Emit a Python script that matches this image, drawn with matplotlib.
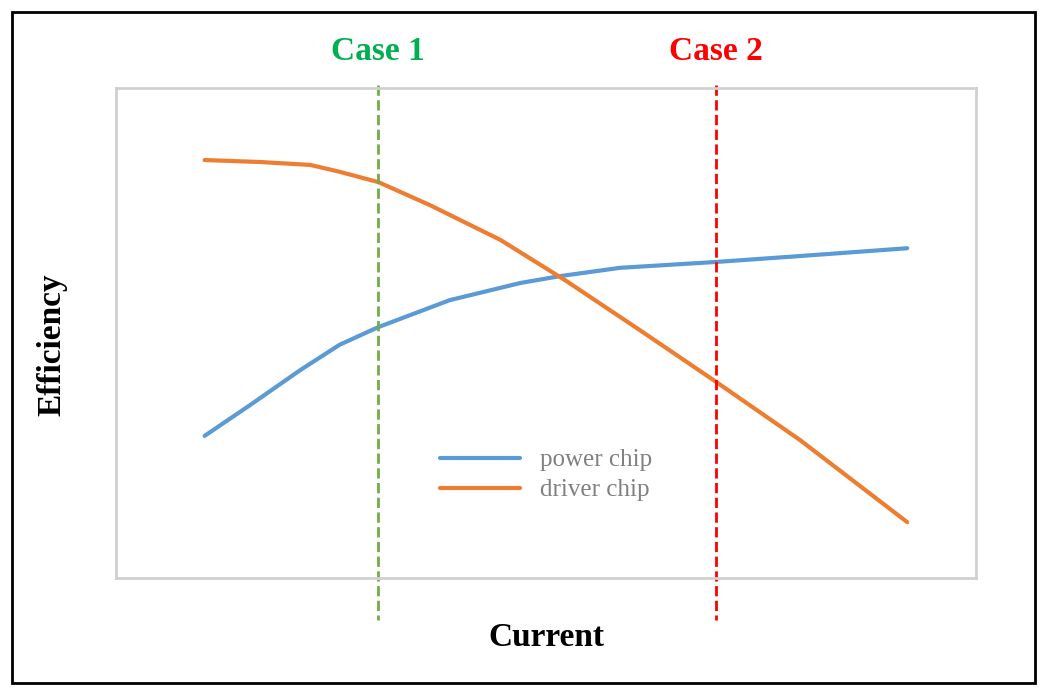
import matplotlib
matplotlib.use("Agg")
import matplotlib.pyplot as plt
from matplotlib.patches import Rectangle

power_x = [1.03, 1.56, 2.14, 2.60, 3.05, 3.88, 4.70, 5.16, 5.86, 6.98, 7.95, 9.20]
power_y = [2.90, 3.53, 4.24, 4.76, 5.12, 5.67, 6.02, 6.16, 6.33, 6.45, 6.57, 6.73]
driver_x = [1.03, 1.67, 2.26, 2.60, 3.05, 3.65, 4.47, 5.22, 6.09, 6.98, 7.95, 9.20]
driver_y = [8.53, 8.49, 8.43, 8.29, 8.08, 7.61, 6.90, 6.08, 5.06, 4.00, 2.82, 1.14]
case_x = [3.05, 6.98]
case_labels = ["Case 1", "Case 2"]
case_colors = ["#70ad47", "#ff0000"]
case_text_colors = ["#00b050", "#ff0000"]

plt.rcParams['font.family'] = ['Liberation Serif', 'DejaVu Serif']
fig = plt.figure(figsize=(10.5, 6.95), dpi=100)
fig.patches.append(Rectangle((12/1050, 12/695), 1023/1050, 671/695, transform=fig.transFigure,
                             fill=False, edgecolor='black', linewidth=2))
ax = fig.add_axes([116/1050, 117/695, 860/1050, 490/695])
ax.set_xlim(0, 10)
ax.set_ylim(0, 10)
for s in ax.spines.values():
    s.set_color('#d0d0d0'); s.set_linewidth(2)
ax.set_xticks([]); ax.set_yticks([])

ax.plot(power_x, power_y, color='#5b9bd5', lw=3, label='power chip', solid_capstyle='round')
ax.plot(driver_x, driver_y, color='#ed7d31', lw=3, label='driver chip', solid_capstyle='round')
for cx, lab, c, tc in zip(case_x, case_labels, case_colors, case_text_colors):
    ax.plot([cx, cx], [10.06, -0.86], ls='--', color=c, lw=2, clip_on=False)
    ax.text(cx, 10.75, lab, ha='center', va='center', fontsize=24, fontweight='bold', color=tc)

leg = ax.legend(loc='center', bbox_to_anchor=(0.5, 0.21), frameon=False, fontsize=18,
                handlelength=3.2, labelspacing=0.3)
for t in leg.get_texts():
    t.set_color('#808080')

fig.text(52/1050, 1-345/695, 'Efficiency', rotation=90, ha='center', va='center',
         fontsize=24, fontweight='bold')
fig.text(546/1050, 1-638/695, 'Current', ha='center', va='center', fontsize=24, fontweight='bold')
fig.savefig('out.png', dpi=100)
